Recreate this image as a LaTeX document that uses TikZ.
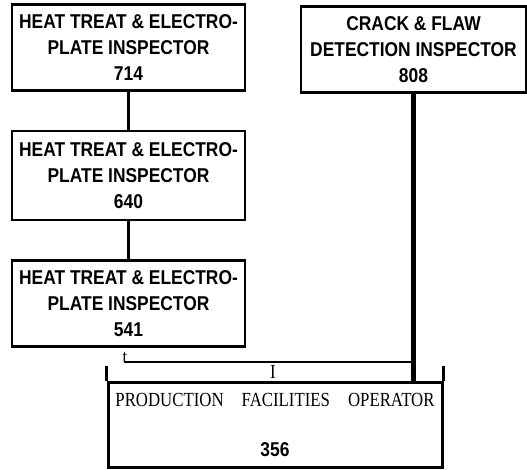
\documentclass[tikz,border=0pt]{standalone}
\usepackage{fontspec}
\newfontfamily\boxfont{Liberation Sans}[FakeStretch=0.87]
\newfontfamily\scanfont{Liberation Serif}[FakeStretch=0.84]
\usetikzlibrary{positioning}

\begin{document}
\begin{tikzpicture}[x=1pt, y=-1pt,
  inspbox/.style={draw, line width=2.6pt, minimum width=233pt, minimum height=86pt, align=center, inner sep=2pt, font=\boxfont\bfseries\fontsize{20}{26}\selectfont},
  link/.style={line width=2.1pt},
  feed/.style={line width=4.5pt},
  prodline/.style={line width=3pt},
  scan/.style={inner sep=0pt, font=\scanfont\fontsize{20}{20}\selectfont}
]
\useasboundingbox (0,0) rectangle (527,469);
% inspector chain on the left
\node[inspbox] (insp714) at (128.5,47.5) {HEAT TREAT \& ELECTRO-\\PLATE INSPECTOR\\714};
\node[inspbox, below=38pt of insp714, minimum height=89pt] (insp640) {HEAT TREAT \& ELECTRO-\\PLATE INSPECTOR\\640};
\node[inspbox, below=38pt of insp640] (insp541) {HEAT TREAT \& ELECTRO-\\PLATE INSPECTOR\\541};
\node[inspbox, minimum width=225pt] (crack808) at (413.5,49.5) {CRACK \& FLAW\\DETECTION INSPECTOR\\808};
% operator box
\node[draw, prodline, minimum width=334pt, minimum height=85pt, align=center, inner sep=2pt, font=\fontsize{20}{50}\selectfont] (prod356) at (275,424.5)
  {{\scanfont PRODUCTION\hspace{18pt}FACILITIES\hspace{18pt}OPERATOR}\\{\boxfont\bfseries\fontsize{20}{50}\selectfont 356}};
\draw[prodline] (prod356.north west) -- ++(0,-15);
\draw[prodline] (prod356.north east) -- ++(0,-15);
\draw[link] (insp714) -- (insp640);
\draw[link] (insp640) -- (insp541);
\draw[feed] (crack808.south) -- ([yshift=-3pt]crack808.south |- prod356.north);
\coordinate (tail) at (125,362);
\draw[link, line width=1.8pt] (tail) -- (tail -| crack808.south);
\node[scan, anchor=base west] (tmark) at (122.5,363) {t};
\node[scan, anchor=base] (imark) at (273,378) {I};
\end{tikzpicture}
\end{document}
